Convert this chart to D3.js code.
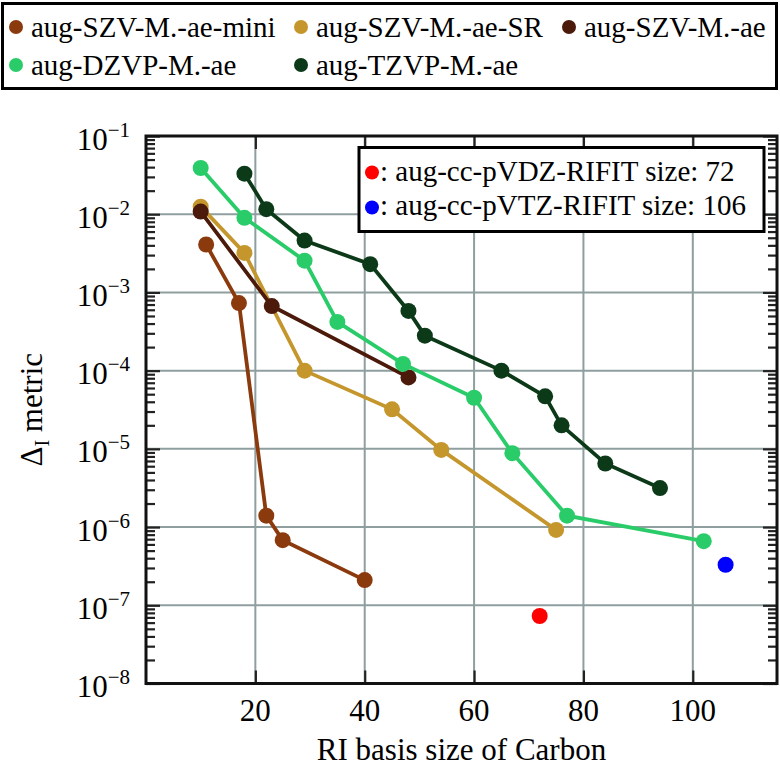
<!DOCTYPE html>
<html>
<head>
<meta charset="utf-8">
<script src="https://cdn.jsdelivr.net/npm/d3@7"></script>
<style>
  body { margin: 0; background: #fff; }
  text { font-family: "Liberation Serif", "DejaVu Serif", serif; fill: #000; }
</style>
</head>
<body>
<div id="chart"></div>
<script>
var width = 780;
var height = 768;
var serif = '"Liberation Serif", "DejaVu Serif", serif';

// data
var seriesNames = ['aug-SZV-M.-ae-mini', 'aug-SZV-M.-ae-SR', 'aug-SZV-M.-ae', 'aug-DZVP-M.-ae', 'aug-TZVP-M.-ae'];
var seriesColors = ['#8b3a0e', '#c4962c', '#4b1a0b', '#2acc6a', '#0c3a19'];

var miniX = [11, 17, 22, 25, 40];
var miniY = [4.1e-3, 7.3e-4, 1.4e-6, 6.8e-7, 2.1e-7];
var srX = [10, 18, 29, 45, 54, 75];
var srY = [1.25e-2, 3.2e-3, 1.0e-4, 3.2e-5, 9.7e-6, 9.2e-7];
var aeX = [10, 23, 48];
var aeY = [1.08e-2, 6.7e-4, 8.2e-5];
var dzvpX = [10, 18, 29, 35, 47, 60, 67, 77, 102];
var dzvpY = [3.9e-2, 9.0e-3, 2.55e-3, 4.2e-4, 1.22e-4, 4.5e-5, 8.8e-6, 1.4e-6, 6.6e-7];
var tzvpX = [18, 22, 29, 41, 48, 51, 65, 73, 76, 84, 94];
var tzvpY = [3.3e-2, 1.16e-2, 4.6e-3, 2.3e-3, 5.8e-4, 2.8e-4, 1.0e-4, 4.7e-5, 2.0e-5, 6.5e-6, 3.15e-6];

var refLabels = [': aug-cc-pVDZ-RIFIT size: 72', ': aug-cc-pVTZ-RIFIT size: 106'];
var refColors = ['#ff0000', '#0000ff'];
var refX = [72, 106];
var refY = [7.3e-8, 3.3e-7];

var xTicks = [20, 40, 60, 80, 100];
var yExponents = [-1, -2, -3, -4, -5, -6, -7, -8];

var seriesX = [miniX, srX, aeX, dzvpX, tzvpX];
var seriesY = [miniY, srY, aeY, dzvpY, tzvpY];

var margin = { left: 146, top: 136, right: 3, bottom: 84.5 };
var plotW = width - margin.left - margin.right;
var plotH = height - margin.top - margin.bottom;

var x = d3.scaleLinear().domain([0, 115.4]).range([0, plotW]);
var y = d3.scaleLog().domain([1e-8, 1e-1]).range([plotH, 0]);

var svg = d3.select('#chart')
  .append('svg')
  .attr('width', width)
  .attr('height', height);

// top legend
var legend = svg.append('g');
legend.append('rect')
  .attr('x', 2.5)
  .attr('y', 3.5)
  .attr('width', 774)
  .attr('height', 85)
  .attr('fill', '#fff')
  .attr('stroke', '#000')
  .attr('stroke-width', 3);

var legCols = [16, 301, 569];
var legRows = [27, 65];
seriesNames.forEach(function(name, i) {
  var lx = legCols[i < 3 ? i : i - 3];
  var ly = legRows[i < 3 ? 0 : 1];
  legend.append('circle')
    .attr('cx', lx)
    .attr('cy', ly)
    .attr('r', 7)
    .attr('fill', seriesColors[i]);
  legend.append('text')
    .attr('x', lx + 15)
    .attr('y', ly + 10)
    .style('font-size', '29px')
    .text(name);
});

var plot = svg.append('g')
  .attr('transform', 'translate(' + margin.left + ',' + margin.top + ')');

// grid
plot.append('g')
  .selectAll('line')
  .data(xTicks)
  .enter()
  .append('line')
  .attr('x1', function(d) { return x(d); })
  .attr('x2', function(d) { return x(d); })
  .attr('y1', 0)
  .attr('y2', plotH)
  .attr('stroke', '#8f9e9e')
  .attr('stroke-width', 2);

plot.append('g')
  .selectAll('line')
  .data(yExponents.slice(1, -1))
  .enter()
  .append('line')
  .attr('x1', 0)
  .attr('x2', plotW)
  .attr('y1', function(d) { return y(Math.pow(10, d)); })
  .attr('y2', function(d) { return y(Math.pow(10, d)); })
  .attr('stroke', '#8f9e9e')
  .attr('stroke-width', 2);

// axes ticks (inward)
var majors = yExponents.map(function(e) { return Math.pow(10, e); });
var minors = [];
yExponents.slice(1).forEach(function(e) {
  for (var k = 2; k <= 9; k++) minors.push(k * Math.pow(10, e));
});

function styleAxis(g) {
  g.select('.domain').remove();
  g.selectAll('.tick line').attr('stroke', '#222').attr('stroke-width', 2.2);
}

plot.append('g')
  .call(d3.axisLeft(y).tickValues(minors).tickSize(-9).tickFormat(''))
  .call(styleAxis);
plot.append('g')
  .attr('transform', 'translate(' + plotW + ',0)')
  .call(d3.axisRight(y).tickValues(minors).tickSize(-9).tickFormat(''))
  .call(styleAxis);
plot.append('g')
  .attr('transform', 'translate(' + plotW + ',0)')
  .call(d3.axisRight(y).tickValues(majors).tickSize(-14).tickFormat(''))
  .call(styleAxis);

var yAxis = plot.append('g')
  .call(d3.axisLeft(y).tickValues(majors).tickSize(-14).tickPadding(16).tickFormat(''))
  .call(styleAxis);
yAxis.attr('font-family', null);
yAxis.selectAll('.tick text')
  .attr('dy', null)
  .attr('y', 13)
  .style('font-size', '31px')
  .each(function(d) {
    var t = d3.select(this);
    t.append('tspan').text('10');
    t.append('tspan')
      .attr('dy', -13)
      .style('font-size', '21px')
      .text('\u2212' + Math.round(-Math.log10(d)));
  });

plot.append('g')
  .attr('transform', 'translate(0,' + plotH + ')')
  .call(d3.axisBottom(x).tickValues(xTicks).tickSize(-13).tickPadding(0).tickFormat(''))
  .call(styleAxis);
plot.append('g')
  .call(d3.axisTop(x).tickValues(xTicks).tickSize(-13).tickFormat(''))
  .call(styleAxis);

plot.append('g')
  .selectAll('text')
  .data(xTicks)
  .enter()
  .append('text')
  .attr('x', function(d) { return x(d); })
  .attr('y', plotH + 37)
  .attr('text-anchor', 'middle')
  .style('font-size', '31px')
  .text(function(d) { return d; });

// series
var line = d3.line()
  .x(function(d) { return x(d[0]); })
  .y(function(d) { return y(d[1]); });

seriesX.forEach(function(xs, i) {
  var pts = xs.map(function(v, j) { return [v, seriesY[i][j]]; });
  var g = plot.append('g');
  g.append('path')
    .datum(pts)
    .attr('d', line)
    .attr('fill', 'none')
    .attr('stroke', seriesColors[i])
    .attr('stroke-width', 3.8);
  g.selectAll('circle')
    .data(pts)
    .enter()
    .append('circle')
    .attr('cx', function(d) { return x(d[0]); })
    .attr('cy', function(d) { return y(d[1]); })
    .attr('r', 8)
    .attr('fill', seriesColors[i]);
});

plot.append('g')
  .selectAll('circle')
  .data(refX)
  .enter()
  .append('circle')
  .attr('cx', function(d) { return x(d); })
  .attr('cy', function(d, i) { return y(refY[i]); })
  .attr('r', 8)
  .attr('fill', function(d, i) { return refColors[i]; });

// frame
plot.append('rect')
  .attr('width', plotW)
  .attr('height', plotH)
  .attr('fill', 'none')
  .attr('stroke', '#111')
  .attr('stroke-width', 3);

// inset legend
var inset = svg.append('g');
inset.append('rect')
  .attr('x', 359)
  .attr('y', 147.5)
  .attr('width', 405)
  .attr('height', 84)
  .attr('fill', '#fff')
  .attr('stroke', '#000')
  .attr('stroke-width', 3);
refLabels.forEach(function(lab, i) {
  inset.append('circle')
    .attr('cx', 372)
    .attr('cy', 172.5 + i * 35)
    .attr('r', 7)
    .attr('fill', refColors[i]);
  inset.append('text')
    .attr('x', 380)
    .attr('y', 181 + i * 34)
    .style('font-size', '29px')
    .text(lab);
});

// axis titles
svg.append('text')
  .attr('x', margin.left + plotW / 2)
  .attr('y', 760)
  .attr('text-anchor', 'middle')
  .style('font-size', '31px')
  .text('RI basis size of Carbon');

var yTitle = svg.append('text')
  .attr('transform', 'translate(42,' + (margin.top + plotH / 2) + ') rotate(-90)')
  .attr('text-anchor', 'middle')
  .style('font-size', '31px');
yTitle.append('tspan').text('\u0394');
yTitle.append('tspan')
  .attr('dy', 7)
  .style('font-size', '20px')
  .text('I');
yTitle.append('tspan')
  .attr('dy', -7)
  .text(' metric');

// same serif face everywhere
svg.selectAll('text').style('font-family', serif);
</script>
</body>
</html>
